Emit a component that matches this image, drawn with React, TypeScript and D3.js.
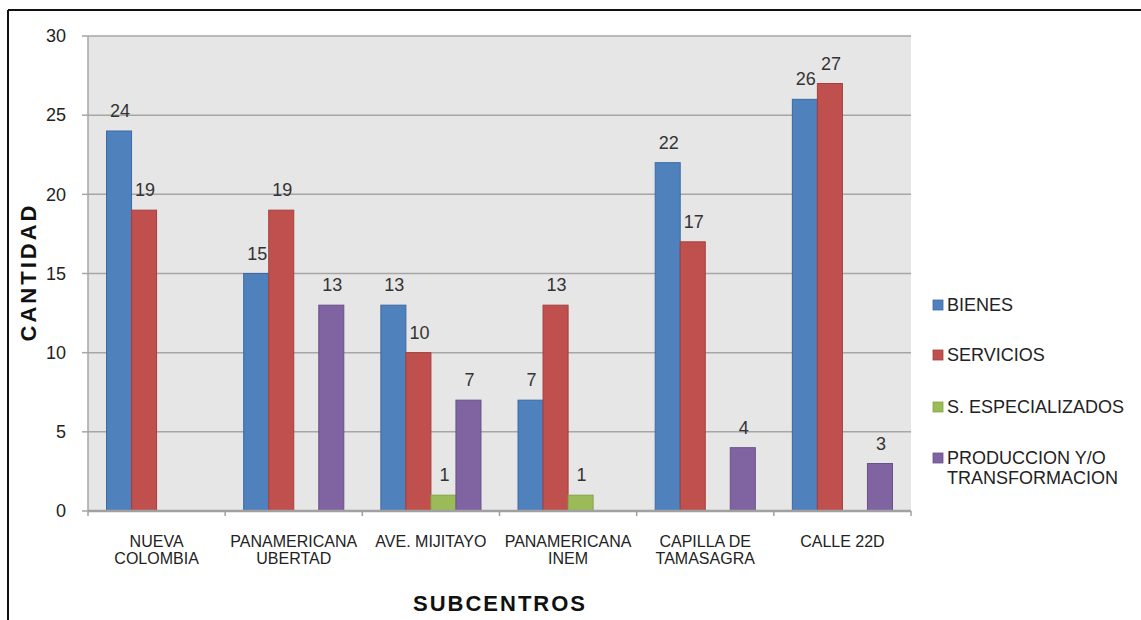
import React from "react";
import * as d3 from "d3";

const categories = [
  ["NUEVA", "COLOMBIA"],
  ["PANAMERICANA", "UBERTAD"],
  ["AVE. MIJITAYO"],
  ["PANAMERICANA", "INEM"],
  ["CAPILLA DE", "TAMASAGRA"],
  ["CALLE 22D"],
];
const seriesNames = ["BIENES", "SERVICIOS", "S. ESPECIALIZADOS", "PRODUCCION Y/O|TRANSFORMACION"];
const bienes = [24, 15, 13, 7, 22, 26];
const servicios = [19, 19, 10, 13, 17, 27];
const especializados = [0, 0, 1, 1, 0, 0];
const produccion = [0, 13, 7, 0, 4, 3];
const yTicks = [0, 5, 10, 15, 20, 25, 30];

const colors = ["#4f81bd", "#c0504d", "#9bbb59", "#8064a2"];
const strokes = ["#3a6aa5", "#a53f3c", "#85a447", "#6a5189"];

export default function App() {
  const W = 1141, H = 620;
  const left = 88, right = 911, top = 36, bottom = 511;
  const series = [bienes, servicios, especializados, produccion];
  const x = d3.scaleBand<number>().domain(d3.range(categories.length)).range([left, right]).paddingInner(0).paddingOuter(0);
  const inner = d3.scaleBand<number>().domain(d3.range(4)).range([0, x.bandwidth()]).paddingOuter(0.74).paddingInner(0);
  const y = d3.scaleLinear().domain([0, 30]).range([bottom, top]);
  const font = "'Liberation Sans', Arial, sans-serif";
  const legendY = [305, 355, 407, 458];

  return (
    <svg width={W} height={H} style={{ position: "absolute", left: 0, top: 0, background: "#fff" }} fontFamily={font}>
      <rect x={left} y={top} width={right - left} height={bottom - top} fill="#e6e6e6" />
      {yTicks.map((t) => (
        <g key={t}>
          {t > 0 && <line x1={left} x2={right} y1={y(t)} y2={y(t)} stroke="#a6a6a6" strokeWidth={1.5} />}
          <line x1={82} x2={left} y1={y(t)} y2={y(t)} stroke="#a6a6a6" strokeWidth={1.5} />
          <text x={66} y={y(t)} dy="0.35em" textAnchor="end" fontSize={18} fill="#222">{t}</text>
        </g>
      ))}
      <line x1={left} x2={left} y1={top} y2={bottom} stroke="#a6a6a6" strokeWidth={1.5} />
      {series.map((vals, si) =>
        vals.map((v, ci) =>
          v > 0 ? (
            <g key={`${si}-${ci}`}>
              <rect
                x={x(ci)! + inner(si)!}
                y={y(v)}
                width={inner.bandwidth()}
                height={y(0) - y(v)}
                fill={colors[si]}
                stroke={strokes[si]}
                strokeWidth={1}
              />
              <text x={x(ci)! + inner(si)! + inner.bandwidth() / 2 + 1} y={y(v) - 14} textAnchor="middle" fontSize={18} fill="#333">{v}</text>
            </g>
          ) : null
        )
      )}
      <line x1={left} x2={right} y1={bottom} y2={bottom} stroke="#a0a0a0" strokeWidth={2.5} />
      {d3.range(categories.length + 1).map((i) => {
        const xx = i < categories.length ? x(i)! : right;
        return <line key={i} x1={xx} x2={xx} y1={bottom} y2={bottom + 5} stroke="#a0a0a0" strokeWidth={1.5} />;
      })}
      {categories.map((lines, ci) => (
        <text key={ci} x={x(ci)! + x.bandwidth() / 2} y={547} textAnchor="middle" fontSize={16} fill="#222">
          {lines.map((l, li) => (
            <tspan key={li} x={x(ci)! + x.bandwidth() / 2} dy={li === 0 ? 0 : 17}>{l}</tspan>
          ))}
        </text>
      ))}
      <text x={500} y={611} textAnchor="middle" fontSize={22} fontWeight="bold" letterSpacing={2} fill="#111">SUBCENTROS</text>
      <text transform={`translate(36,${272}) rotate(-90)`} textAnchor="middle" fontSize={22} fontWeight="bold" letterSpacing={3} fill="#111">CANTIDAD</text>
      {seriesNames.map((n, i) => (
        <g key={n}>
          <rect x={933} y={legendY[i] - 5} width={10} height={10} fill={colors[i]} stroke={strokes[i]} strokeWidth={0.8} />
          <text x={947} y={legendY[i]} fontSize={18} fill="#222">
            {n.split("|").map((p, pi) => (
              <tspan key={pi} x={947} dy={pi === 0 ? "0.35em" : 20}>{p}</tspan>
            ))}
          </text>
        </g>
      ))}
      <line x1={8} x2={8} y1={10} y2={H} stroke="#111" strokeWidth={2} />
      <line x1={8} x2={W} y1={10} y2={10} stroke="#111" strokeWidth={2} />
    </svg>
  );
}
